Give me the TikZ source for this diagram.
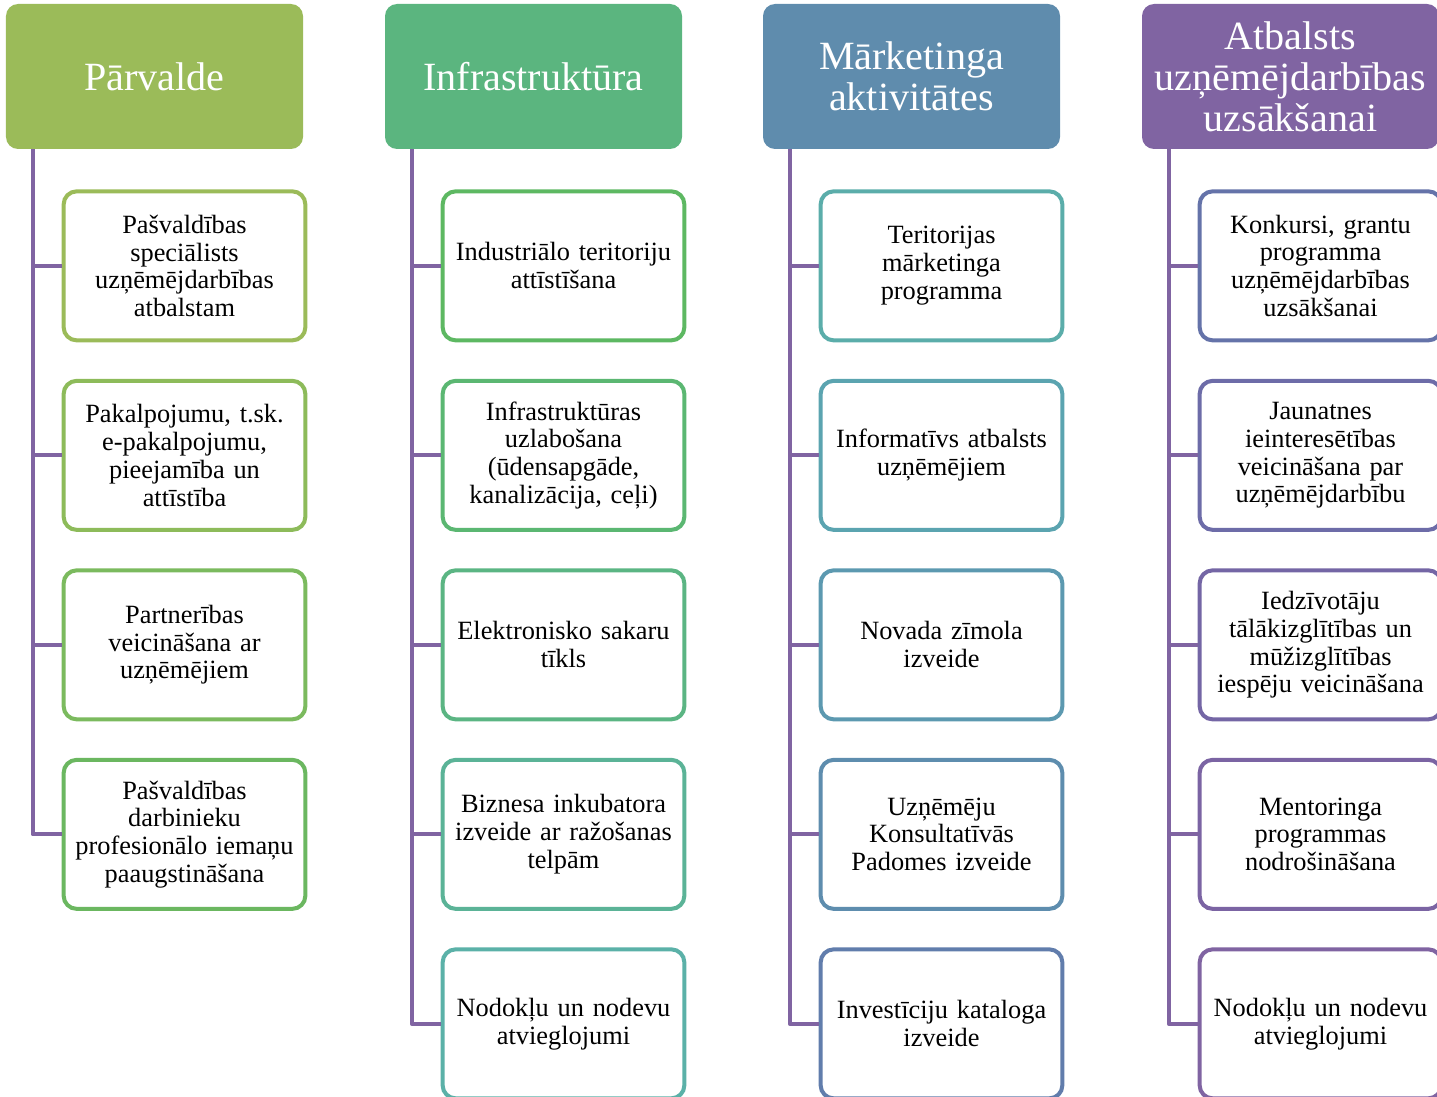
\documentclass[tikz,border=0pt]{standalone}
\usepackage{fontspec}
\setmainfont{Liberation Serif}
\usetikzlibrary{positioning}

\definecolor{hPar}{HTML}{9BBB59}
\definecolor{hInf}{HTML}{5BB57F}
\definecolor{hMar}{HTML}{5F8CAD}
\definecolor{hAtb}{HTML}{8064A2}
\definecolor{b11}{HTML}{9BBB59}
\definecolor{b12}{HTML}{8DBB5A}
\definecolor{b13}{HTML}{7BBA5E}
\definecolor{b14}{HTML}{6BB760}
\definecolor{b21}{HTML}{5DB862}
\definecolor{b22}{HTML}{5BB772}
\definecolor{b23}{HTML}{5BB583}
\definecolor{b24}{HTML}{5BB397}
\definecolor{b25}{HTML}{5BB1A8}
\definecolor{b31}{HTML}{5BADAA}
\definecolor{b32}{HTML}{5BA4B0}
\definecolor{b33}{HTML}{5C99B0}
\definecolor{b34}{HTML}{5E8DAE}
\definecolor{b35}{HTML}{617DAC}
\definecolor{b41}{HTML}{6573A9}
\definecolor{b42}{HTML}{6D6CA8}
\definecolor{b43}{HTML}{7466A5}
\definecolor{b44}{HTML}{7B64A3}
\definecolor{b45}{HTML}{8064A2}

\begin{document}
\begin{tikzpicture}[node distance={0.73cm},
  head/.style = {rounded corners=0.24cm, minimum width=5.94cm, minimum height=2.9cm,
    text=white, align=center, font=\fontsize{22.8}{23.3}\selectfont},
  item/.style = {draw, line width=0.08cm, rounded corners=0.26cm, fill=white,
    minimum width=4.82cm, minimum height=2.98cm, text width=4.6cm, align=center,
    font=\fontsize{15}{15.8}\selectfont},
  conn/.style = {draw=hAtb, line width=0.08cm, line join=round}]
\useasboundingbox (0,0) rectangle (28.74,-21.94);

% headers
\node[head, fill=hPar] (par) at (3.09,-1.53) {Pārvalde};
\node[head, fill=hInf] (inf) at (10.67,-1.53) {Infrastruktūra};
\node[head, fill=hMar] (mar) at (18.23,-1.53) {Mārketinga\\aktivitātes};
\node[head, fill=hAtb] (atb) at (25.81,-1.53) {Atbalsts\\uzņēmējdarbības\\uzsākšanai};

% Parvalde
\node[item, draw=b11] (par1) [below=0.8cm of par, xshift=0.6cm] {Pašvaldības\\speciālists\\uzņēmējdarbības\\atbalstam};
\node[item, draw=b12] (par2) [below=of par1] {Pakalpojumu, t.sk.\\e-pakalpojumu,\\pieejamība un\\attīstība};
\node[item, draw=b13] (par3) [below=of par2] {Partnerības\\veicināšana ar\\uzņēmējiem};
\node[item, draw=b14] (par4) [below=of par3] {Pašvaldības\\darbinieku\\profesionālo iemaņu\\paaugstināšana};

% Infrastruktura
\node[item, draw=b21] (inf1) [below=0.8cm of inf, xshift=0.6cm] {Industriālo teritoriju\\attīstīšana};
\node[item, draw=b22] (inf2) [below=of inf1] {Infrastruktūras\\uzlabošana\\(ūdensapgāde,\\kanalizācija, ceļi)};
\node[item, draw=b23] (inf3) [below=of inf2] {Elektronisko sakaru\\tīkls};
\node[item, draw=b24] (inf4) [below=of inf3] {Biznesa inkubatora\\izveide ar ražošanas\\telpām};
\node[item, draw=b25] (inf5) [below=of inf4] {Nodokļu un nodevu\\atvieglojumi};

% Marketings
\node[item, draw=b31] (mar1) [below=0.8cm of mar, xshift=0.6cm] {Teritorijas\\mārketinga\\programma};
\node[item, draw=b32] (mar2) [below=of mar1] {Informatīvs atbalsts\\uzņēmējiem};
\node[item, draw=b33] (mar3) [below=of mar2] {Novada zīmola\\izveide};
\node[item, draw=b34] (mar4) [below=of mar3] {Uzņēmēju\\Konsultatīvās\\Padomes izveide};
\node[item, draw=b35] (mar5) [below=of mar4] {Investīciju kataloga\\izveide};

% Atbalsts
\node[item, draw=b41] (atb1) [below=0.8cm of atb, xshift=0.6cm] {Konkursi, grantu\\programma\\uzņēmējdarbības\\uzsākšanai};
\node[item, draw=b42] (atb2) [below=of atb1] {Jaunatnes\\ieinteresētības\\veicināšana par\\uzņēmējdarbību};
\node[item, draw=b43] (atb3) [below=of atb2] {Iedzīvotāju\\tālākizglītības un\\mūžizglītības\\iespēju veicināšana};
\node[item, draw=b44] (atb4) [below=of atb3] {Mentoringa\\programmas\\nodrošināšana};
\node[item, draw=b45] (atb5) [below=of atb4] {Nodokļu un nodevu\\atvieglojumi};

% connectors
\coordinate (parT) at ([xshift=0.54cm]par.south west);
\coordinate (infT) at ([xshift=0.54cm]inf.south west);
\coordinate (marT) at ([xshift=0.54cm]mar.south west);
\coordinate (atbT) at ([xshift=0.54cm]atb.south west);
\draw[conn] (parT) |- (par4.west);
\draw[conn] (parT) |- (par1.west);
\draw[conn] (parT) |- (par2.west);
\draw[conn] (parT) |- (par3.west);
\draw[conn] (infT) |- (inf5.west);
\draw[conn] (infT) |- (inf1.west);
\draw[conn] (infT) |- (inf2.west);
\draw[conn] (infT) |- (inf3.west);
\draw[conn] (infT) |- (inf4.west);
\draw[conn] (marT) |- (mar5.west);
\draw[conn] (marT) |- (mar1.west);
\draw[conn] (marT) |- (mar2.west);
\draw[conn] (marT) |- (mar3.west);
\draw[conn] (marT) |- (mar4.west);
\draw[conn] (atbT) |- (atb5.west);
\draw[conn] (atbT) |- (atb1.west);
\draw[conn] (atbT) |- (atb2.west);
\draw[conn] (atbT) |- (atb3.west);
\draw[conn] (atbT) |- (atb4.west);
\end{tikzpicture}
\end{document}
